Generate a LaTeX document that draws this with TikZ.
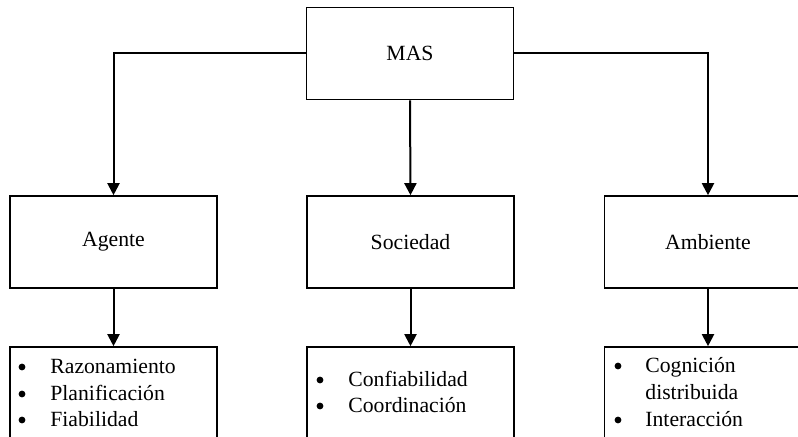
\documentclass[tikz,border=0pt]{standalone}
\usepackage{fontspec}
\setmainfont{Liberation Serif}
\usetikzlibrary{arrows.meta}
\begin{document}
\begin{tikzpicture}[x=0.5pt,y=-0.5pt,
  box/.style={draw, line width=0.8pt, inner sep=0pt, minimum width=103.5pt, minimum height=46pt, font=\fontsize{10.85pt}{13pt}\selectfont},
  listbox/.style={draw, line width=0.8pt, inner sep=0pt, minimum width=103.5pt, minimum height=70pt},
  conn/.style={line width=1pt, -{Triangle[length=6pt,width=6pt]}},
  item/.style={anchor=base west, inner sep=0pt, font=\fontsize{10.85pt}{13pt}\selectfont},
  dot/.style={fill, circle, inner sep=0pt, minimum size=3.4pt}]
\clip (0,0) rectangle (798,437);
\fill[white] (0,0) rectangle (798,437);
% main boxes
\node[box] (mas) at (410,53.5) {MAS};
\node[box] (agente) at (113.5,242) {Agente};
\node[box] (sociedad) at (410.5,242) {Sociedad};
\node[box] (ambiente) at (708,242) {Ambiente};
% list boxes (cut by the lower edge)
\node[listbox] (l1) at (113.5,417) {};
\node[listbox] (l2) at (410.5,417) {};
\node[listbox] (l3) at (708,417) {};
% connectors
\draw[conn] (mas.west) -| (agente.north);
\draw[conn] (mas.south) -- (sociedad.north);
\draw[conn] (mas.east) -| (ambiente.north);
\draw[conn] (agente.south) -- (l1.north);
\draw[conn] (sociedad.south) -- (l2.north);
\draw[conn] (ambiente.south) -- (l3.north);
% list 1
\node[dot] (b11) at (22,367) {};
\node[item] (t11) at (50,374) {Razonamiento};
\node[dot] (b12) at (22,394) {};
\node[item] (t12) at (50,401) {Planificación};
\node[dot] (b13) at (22,420) {};
\node[item] (t13) at (50,427) {Fiabilidad};
% list 2
\node[dot] (b21) at (320,380) {};
\node[item] (t21) at (348,387) {Confiabilidad};
\node[dot] (b22) at (320,406) {};
\node[item] (t22) at (348,413) {Coordinación};
% list 3
\node[dot] (b31) at (618,366) {};
\node[item] (t31) at (645,373) {Cognición};
\node[item] (t32) at (645,400) {distribuida};
\node[dot] (b33) at (618,420) {};
\node[item] (t33) at (645,427) {Interacción};
\end{tikzpicture}
\end{document}
